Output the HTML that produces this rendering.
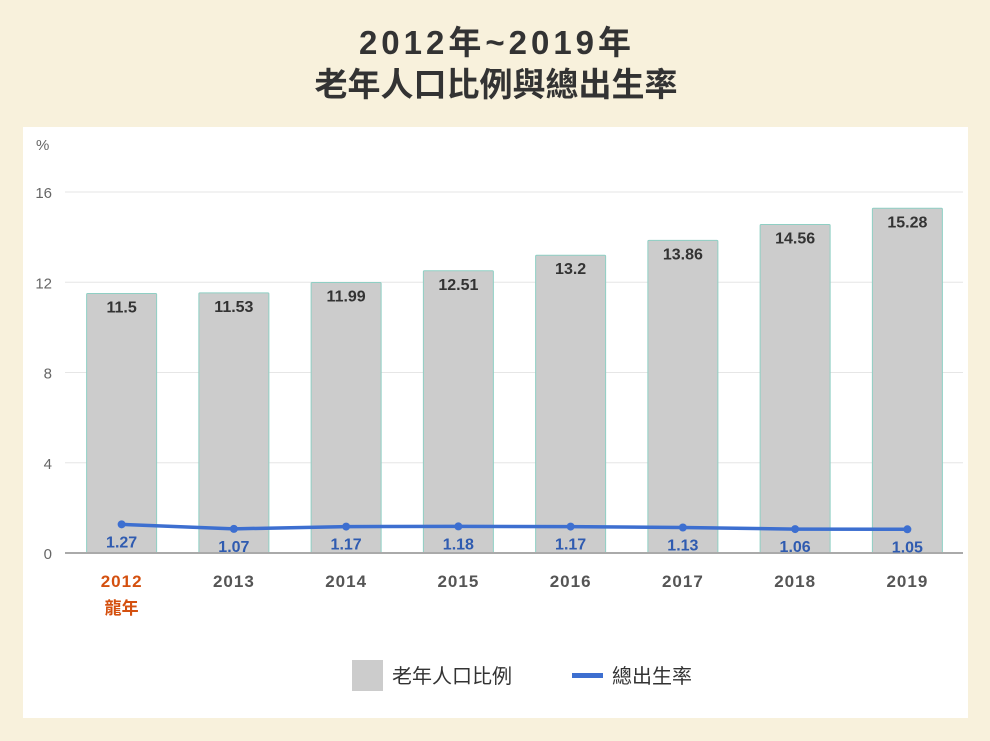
<!DOCTYPE html>
<html><head><meta charset="utf-8"><style>
body{margin:0;width:990px;height:741px;background:#f8f1dc;font-family:"Liberation Sans","Noto Sans CJK TC",sans-serif;overflow:hidden}
svg{display:block}
</style></head><body>
<svg width="990" height="741">
<text x="497" y="54" text-anchor="middle" font-size="33" font-weight="bold" letter-spacing="4" fill="#333" font-family="Liberation Sans,Noto Sans CJK TC,sans-serif">2012年~2019年</text>
<text x="496" y="96" text-anchor="middle" font-size="33" font-weight="bold" fill="#333" font-family="Liberation Sans,Noto Sans CJK TC,sans-serif">老年人口比例與總出生率</text>
<rect x="23" y="127" width="945" height="591" fill="#fff"/>
<g id="plot"></g>
<g>
<rect x="352" y="660" width="31" height="31" fill="#cccccc"/>
<text x="392" y="683" font-size="20" fill="#333" font-family="Liberation Sans,Noto Sans CJK TC,sans-serif">老年人口比例</text>
<rect x="572" y="673" width="31" height="5" fill="#3d6fd0"/>
<text x="612" y="683" font-size="20" fill="#333" font-family="Liberation Sans,Noto Sans CJK TC,sans-serif">總出生率</text>
</g>
</svg>
<script>
const categories=["2012","2013","2014","2015","2016","2017","2018","2019"];
const elderly=[11.5,11.53,11.99,12.51,13.2,13.86,14.56,15.28];
const fertility=[1.27,1.07,1.17,1.18,1.17,1.13,1.06,1.05];
const yTicks=[0,4,8,12,16];
const NS="http://www.w3.org/2000/svg";
const g=document.getElementById('plot');
const x0=65,x1=963,y0=553,scale=22.56;
const step=(x1-x0)/categories.length;
const xs=i=>x0+step*(i+0.5)+0.5;
const ys=v=>y0-v*scale;
function mk(t,a,txt){const e=document.createElementNS(NS,t);for(const k in a)e.setAttribute(k,a[k]);if(txt!=null)e.textContent=txt;g.appendChild(e);return e;}
yTicks.forEach(v=>{
 if(v>0){const l=mk('line',{x1:x0,x2:x1,y1:ys(v),y2:ys(v),stroke:'#e6e6e6','stroke-width':1});
 
 }
 const t=mk('text',{x:52,y:ys(v)+6,'text-anchor':'end','font-size':15,fill:'#666'},String(v));
 
 
});
const pct=mk('text',{x:36,y:150,'font-size':15,fill:'#666'},'%');


elderly.forEach((v,i)=>{
 const b=mk('rect',{x:xs(i)-35,y:ys(v),width:70,height:y0-ys(v),fill:'#cccccc',stroke:'#8fcfc4','stroke-width':1,rx:1});
 
 
 const t=mk('text',{x:xs(i),y:ys(v)+19,'text-anchor':'middle','font-size':16,'font-weight':'bold',fill:'#333'},String(v));
 
 
});
const ax=mk('line',{x1:x0,x2:x1,y1:y0,y2:y0,stroke:'#aaa','stroke-width':2});


const pl=mk('polyline',{points:fertility.map((v,i)=>xs(i)+','+ys(v)).join(' '),fill:'none',stroke:'#3d6fd0','stroke-width':3.5,'stroke-linejoin':'round'});


fertility.forEach((v,i)=>{
 const c=mk('circle',{cx:xs(i),cy:ys(v),r:4,fill:'#3d6fd0'});
 
 
 const t=mk('text',{x:xs(i),y:ys(v)+23,'text-anchor':'middle','font-size':16,'font-weight':'bold',fill:'#2f5bb0'},v.toFixed(2));
 
 
});
categories.forEach((c,i)=>{
 const t=mk('text',{x:xs(i),y:587,'text-anchor':'middle','font-size':17,'font-weight':'bold',fill:i===0?'#d4500f':'#555','letter-spacing':'1'},c);
 
 
});
const d=mk('text',{x:xs(0),y:614,'text-anchor':'middle','font-size':17,'font-weight':'bold',fill:'#d4500f'},'龍年');


</script>
</body></html>
